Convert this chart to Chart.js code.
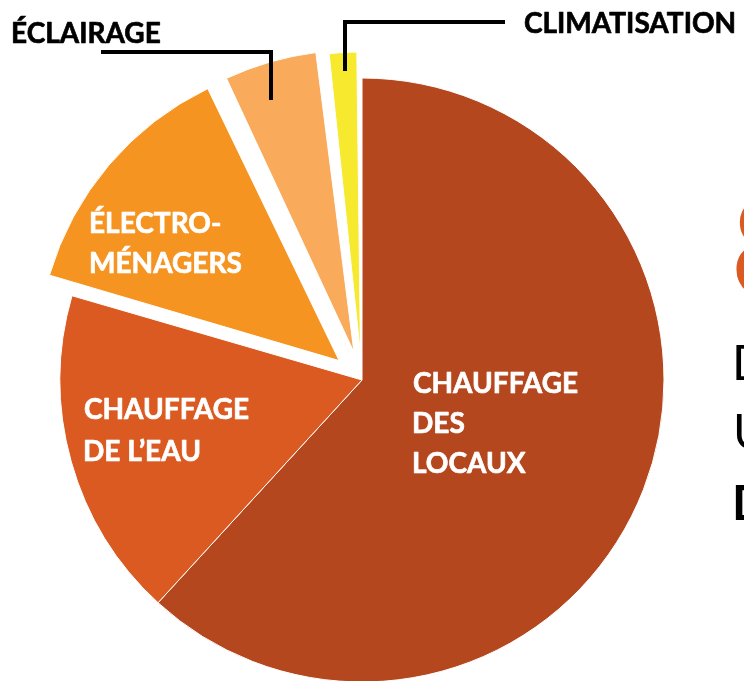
<!DOCTYPE html>
<html>
<head>
<meta charset="utf-8">
<script src="https://cdn.jsdelivr.net/npm/chart.js@4"></script>
<style>
    html, body { margin: 0; padding: 0; background: #ffffff; overflow: hidden; }
    #wrap { position: absolute; left: 0; top: 0; width: 744px; height: 760px; }
</style>
</head>
<body>
<div id="wrap"><canvas id="pieChart" width="744" height="760"></canvas></div>
<script>
// parts of household energy use (%)
const categories = ['Chauffage des locaux', 'Chauffage de l’eau', 'Électroménagers', 'Éclairage', 'Climatisation'];
const shares = [61.8, 17.7, 13.4, 5.25, 1.85];
const sliceLabels = [
    ['CHAUFFAGE', 'DES', 'LOCAUX'],
    ['CHAUFFAGE', 'DE L’EAU'],
    ['ÉLECTRO-', 'MÉNAGERS'],
    ['ÉCLAIRAGE'],
    ['CLIMATISATION']
];

const colors = ['#B5471F', '#DA5A22', '#F59421', '#F9AA5A', '#F6E92E'];
// chart.js v4 moves an arc by offset / 4
const offsets = [0, 0, 120, 116, 104];

// where each label block goes: ink left edge, first baseline, line gap, colour
const labelPlaces = [
    { x: 414, y: 393, gap: 40, color: '#ffffff' },
    { x: 85, y: 419, gap: 42, color: '#ffffff' },
    { x: 91, y: 233, gap: 40, color: '#ffffff' },
    { x: 13, y: 43, gap: 0, color: '#000000' },
    { x: 525, y: 33, gap: 0, color: '#000000' }
];

// leader lines for the two small slices
const leaders = [
    [[101, 52], [271, 52], [271, 100]],
    [[345, 71], [345, 22], [505, 22]]
];

function inkText(ctx, text, left, baseline, heavy) {
    const m = ctx.measureText(text);
    const x = left + m.actualBoundingBoxLeft;
    ctx.fillText(text, x, baseline);
    if (heavy) {
        ctx.strokeText(text, x, baseline);
    }
}

// keep exploded slices at the same radius as the others
const keepRadius = {
    id: 'keepRadius',
    afterUpdate(chart) {
        const meta = chart.getDatasetMeta(0);
        meta.data.forEach((arc, i) => {
            const o = offsets[i] / 4;
            const fix = 1 - Math.sin(Math.min(Math.PI, arc.circumference));
            arc.outerRadius = arc.outerRadius - o * fix;
        });
    }
};

const labelsPlugin = {
    id: 'labelsPlugin',
    afterDraw(chart) {
        const ctx = chart.ctx;
        ctx.save();
        ctx.textAlign = 'left';
        ctx.textBaseline = 'alphabetic';
        ctx.font = 'bold 28px Lato';
        ctx.lineWidth = 0.7;
        ctx.lineJoin = 'round';

        sliceLabels.forEach((lines, i) => {
            const p = labelPlaces[i];
            ctx.fillStyle = p.color;
            ctx.strokeStyle = p.color;
            lines.forEach((line, k) => {
                inkText(ctx, line, p.x, p.y + k * p.gap, true);
            });
        });

        ctx.strokeStyle = '#000000';
        ctx.lineWidth = 4;
        ctx.lineCap = 'butt';
        ctx.lineJoin = 'miter';
        for (let pts of leaders) {
            ctx.beginPath();
            ctx.moveTo(pts[0][0], pts[0][1]);
            for (let k = 1; k < pts.length; k++) {
                ctx.lineTo(pts[k][0], pts[k][1]);
            }
            ctx.stroke();
        }

        // bits of the slide text cut off at the right edge
        ctx.fillStyle = '#DA5A22';
        ctx.font = 'bold 140px Lato';
        inkText(ctx, '8', 736, 298, false);
        ctx.fillStyle = '#000000';
        ctx.font = '48px Lato';
        inkText(ctx, 'D', 736, 380, false);
        inkText(ctx, 'U', 736, 449, false);
        ctx.font = 'bold 48px Lato';
        inkText(ctx, 'D', 735, 520, false);
        ctx.restore();
    }
};

const ctx = document.getElementById('pieChart').getContext('2d');
new Chart(ctx, {
    type: 'pie',
    data: {
        labels: categories,
        datasets: [{
            data: shares,
            backgroundColor: colors,
            borderColor: '#ffffff',
            borderWidth: 1,
            offset: offsets,
            radius: 302
        }]
    },
    options: {
        responsive: false,
        animation: false,
        layout: { padding: { left: 0, right: 20, top: 0, bottom: 0 } },
        plugins: {
            legend: { display: false },
            tooltip: { enabled: false }
        }
    },
    plugins: [keepRadius, labelsPlugin]
});
</script>
</body>
</html>
